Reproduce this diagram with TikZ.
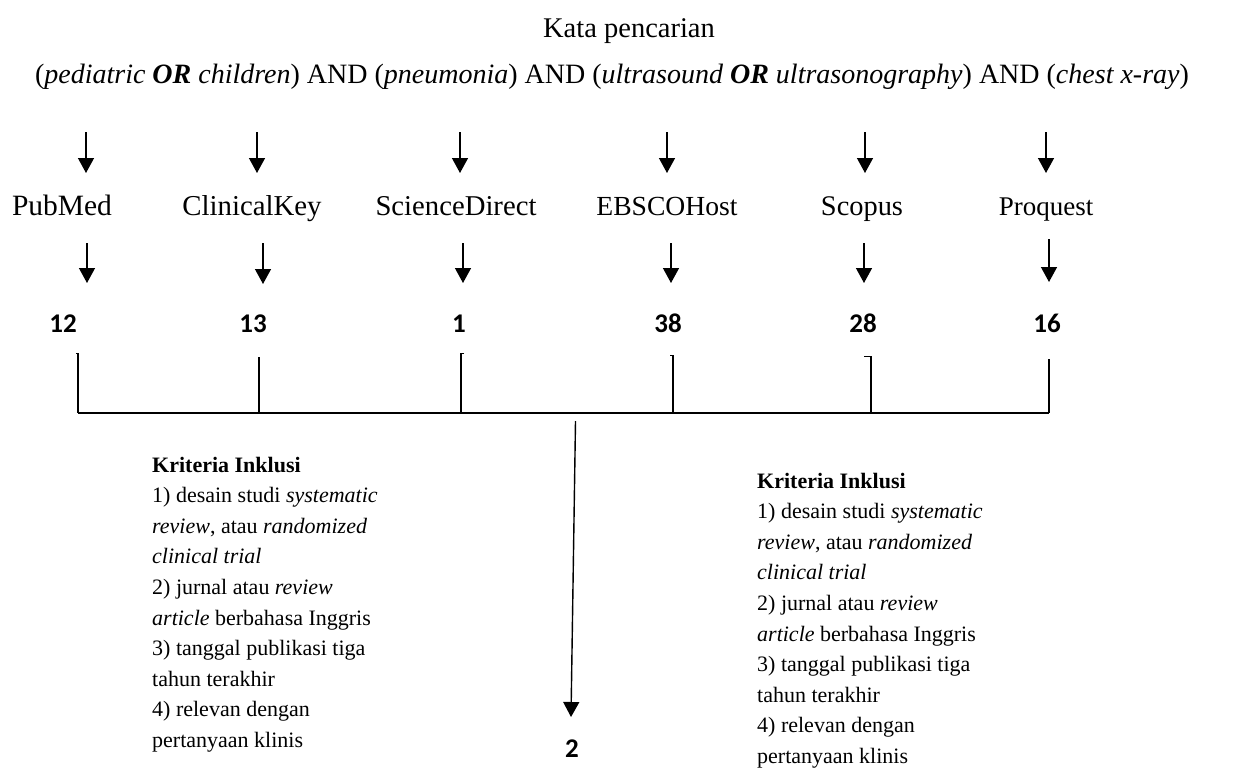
\documentclass[tikz,border=0pt]{standalone}
\usepackage{fontspec}
\setmainfont{Liberation Serif}
\newfontfamily\numfont{Carlito}
\usetikzlibrary{arrows.meta}
\begin{document}
\begin{tikzpicture}[x=1pt,y=-1pt,
  arr/.style={line width=1.4pt,-{Triangle[width=16pt,length=15pt]}},
  brk/.style={line width=1.5pt,line join=miter},
  title/.style={inner sep=0pt,anchor=base,font=\fontsize{28.5}{34}\selectfont},
  dbname/.style={inner sep=0pt,anchor=base,font=\fontsize{28.5}{34}\selectfont},
  num/.style={inner sep=0pt,anchor=base,font=\numfont\bfseries\fontsize{27}{32}\selectfont},
  crit/.style={inner sep=0pt,anchor=base west,font=\fontsize{22}{30.6}\selectfont}]
\useasboundingbox (0,0) rectangle (1235,771);

% titles
\node[title] (kata) at (629,37) {Kata pencarian};
\node[title,font=\fontsize{28}{34}\selectfont] (query) at (612,83) {(\textit{pediatric} \textbf{\textit{OR}} \textit{children}) AND (\textit{pneumonia}) AND (\textit{ultrasound} \textbf{\textit{OR}} \textit{ultrasonography}) AND (\textit{chest x-ray})};

% database names
\node[dbname,font=\fontsize{29.5}{34}\selectfont] (pub) at (62,215) {PubMed};
\node[dbname,font=\fontsize{28.8}{34}\selectfont] (ck) at (252,215) {ClinicalKey};
\node[dbname,font=\fontsize{28.7}{34}\selectfont] (sd) at (456,215) {ScienceDirect};
\node[dbname,font=\fontsize{27.6}{34}\selectfont] (eb) at (667,215) {EBSCOHost};
\node[dbname,font=\fontsize{28.4}{34}\selectfont] (sc) at (862,215) {Scopus};
\node[dbname,font=\fontsize{27}{34}\selectfont] (pq) at (1046,215) {Proquest};

% numbers
\node[num] (n1) at (63,332) {12};
\node[num] (n2) at (253,332) {13};
\node[num] (n3) at (459,332) {1};
\node[num] (n4) at (668,332) {38};
\node[num] (n5) at (863,332) {28};
\node[num] (n6) at (1047,332) {16};

% top arrows
\foreach \x/\n in {86/a,257/b,460/c,667/d,865/e,1046/f}{
  \coordinate (t\n) at (\x,132);
  \coordinate (u\n) at (\x,173);
  \draw[arr] (t\n) -- (u\n);
}
% second arrows
\foreach \x/\n/\ya/\yb in {87/a/243/283,263/b/243/284,463/c/243/283,671/d/243/283,864/e/243/283,1049/f/239/282}{
  \coordinate (v\n) at (\x,\ya);
  \coordinate (w\n) at (\x,\yb);
  \draw[arr] (v\n) -- (w\n);
}

% bracket
\coordinate (hl) at (78,413);
\coordinate (hr) at (1049,413);
\draw[brk] (76,353.5) -- (78,353.5) -- (hl);
\draw[brk] (259,357) -- (259,413);
\draw[brk] (464,353.5) -- (461,353.5) -- (461,413);
\draw[brk] (670,355.5) -- (673,355.5) -- (673,413);
\draw[brk] (864,356.5) -- (871,356.5) -- (871,413);
\draw[brk] (1049,359) -- (hr);
\draw[brk] (hl) -- (hr);

% long arrow
\coordinate (d0) at (575.5,421);
\coordinate (d1) at (571,717);
\draw[arr] (d0) -- (d1);
\node[num] (two) at (572,757) {2};

% criteria
\node[crit] (kl) at (152,472) {\vtop{\hbox{\textbf{Kriteria Inklusi}}
\hbox{1) desain studi \textit{systematic}}
\hbox{\textit{review}, atau \textit{randomized}}
\hbox{\textit{clinical trial}}
\hbox{2) jurnal atau \textit{review}}
\hbox{\textit{article} berbahasa Inggris}
\hbox{3) tanggal publikasi tiga}
\hbox{tahun terakhir}
\hbox{4) relevan dengan}
\hbox{pertanyaan klinis}}};
\node[crit] (kr) at (757,488) {\vtop{\hbox{\textbf{Kriteria Inklusi}}
\hbox{1) desain studi \textit{systematic}}
\hbox{\textit{review}, atau \textit{randomized}}
\hbox{\textit{clinical trial}}
\hbox{2) jurnal atau \textit{review}}
\hbox{\textit{article} berbahasa Inggris}
\hbox{3) tanggal publikasi tiga}
\hbox{tahun terakhir}
\hbox{4) relevan dengan}
\hbox{pertanyaan klinis}}};
\end{tikzpicture}
\end{document}
